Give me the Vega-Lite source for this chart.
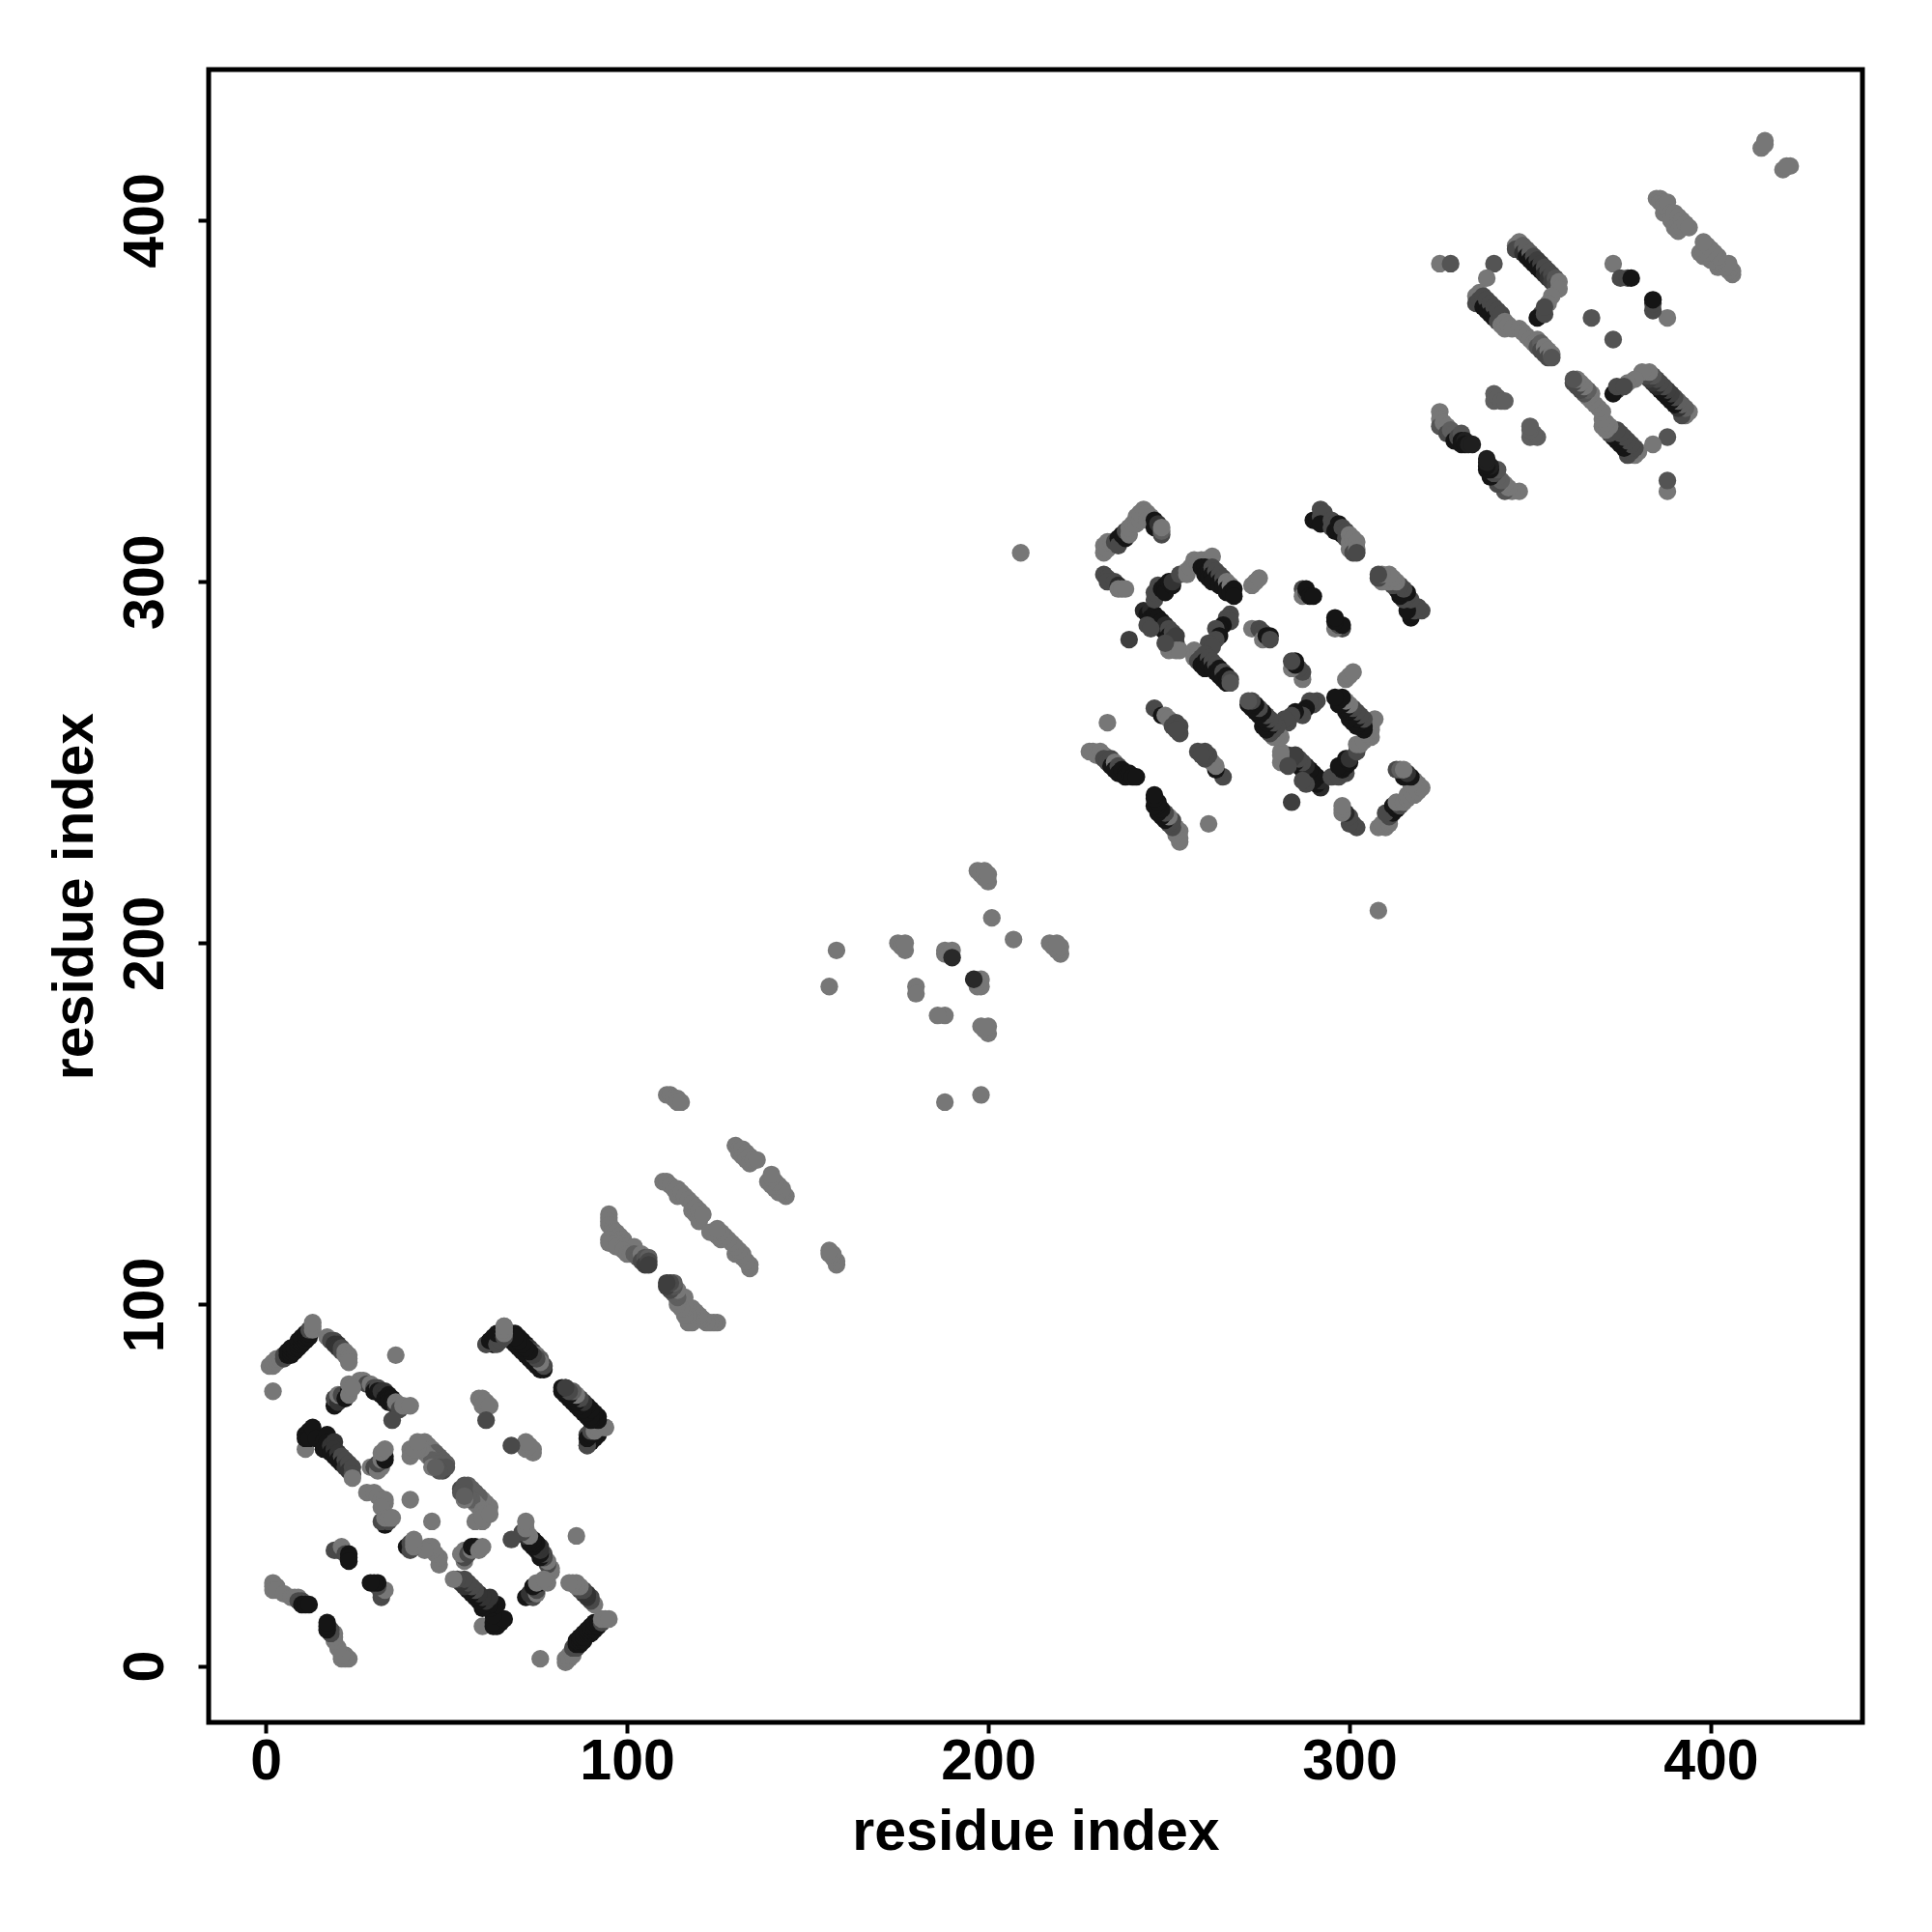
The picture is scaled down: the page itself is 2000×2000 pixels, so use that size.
{"$schema":"https://vega.github.io/schema/vega-lite/v6.json","width":1712,"height":1711,"autosize":{"type":"none"},"padding":{"left":216,"top":72,"right":72,"bottom":217},"background":"white","config":{"view":{"stroke":"black","strokeWidth":5},"font":"Liberation Sans"},
"data":{"values":[
{"x":1,"y":83,"v":1},{"x":2,"y":83,"v":1},{"x":2,"y":84,"v":1},{"x":3,"y":84,"v":1},{"x":3,"y":85,"v":1},{"x":4,"y":85,"v":1},{"x":5,"y":85,"v":0.6},{"x":5,"y":86,"v":0.6},{"x":6,"y":86,"v":0.1},{"x":6,"y":87,"v":0.1},{"x":7,"y":86,"v":0.1},{"x":7,"y":87,"v":0.1},{"x":7,"y":88,"v":0.1},{"x":8,"y":87,"v":0.1},{"x":8,"y":88,"v":0.1},{"x":9,"y":88,"v":0.1},{"x":9,"y":89,"v":0.1},{"x":9,"y":90,"v":0.1},{"x":10,"y":89,"v":0.1},{"x":10,"y":90,"v":0.1},{"x":10,"y":91,"v":0.1},{"x":11,"y":90,"v":0.1},{"x":11,"y":91,"v":0.1},{"x":11,"y":92,"v":0.1},{"x":12,"y":91,"v":0.1},{"x":12,"y":92,"v":0.1},{"x":12,"y":93,"v":0.6},{"x":13,"y":93,"v":1},{"x":13,"y":94,"v":1},{"x":13,"y":95,"v":1},{"x":2,"y":76,"v":1},
{"x":17,"y":91,"v":1},{"x":18,"y":90,"v":0.6},{"x":19,"y":90,"v":0.6},{"x":19,"y":89,"v":0.4},{"x":20,"y":89,"v":0.4},{"x":20,"y":88,"v":0.4},{"x":21,"y":88,"v":0.6},{"x":21,"y":87,"v":0.6},{"x":22,"y":87,"v":1},{"x":22,"y":86,"v":1},{"x":23,"y":86,"v":1},{"x":23,"y":85,"v":1},{"x":23,"y":84,"v":1},
{"x":26,"y":79,"v":1},{"x":27,"y":79,"v":1},{"x":28,"y":78,"v":0.6},{"x":29,"y":78,"v":1},{"x":30,"y":77,"v":0.6},{"x":30,"y":76,"v":0.1},{"x":31,"y":77,"v":0.6},{"x":31,"y":76,"v":0.1},{"x":32,"y":75,"v":0.1},{"x":32,"y":76,"v":0.4},{"x":33,"y":76,"v":0.4},{"x":33,"y":75,"v":0.4},{"x":33,"y":74,"v":0.1},{"x":34,"y":75,"v":0.1},{"x":34,"y":74,"v":0.1},{"x":34,"y":73,"v":0.1},{"x":35,"y":74,"v":0.1},{"x":35,"y":73,"v":0.1},{"x":36,"y":72,"v":0.4},{"x":36,"y":73,"v":1},{"x":37,"y":72,"v":1},{"x":37,"y":71,"v":0.6},{"x":38,"y":72,"v":1},{"x":40,"y":72,"v":1},{"x":35,"y":68,"v":0.6},
{"x":19,"y":72,"v":0.1},{"x":19,"y":74,"v":0.6},{"x":20,"y":73,"v":0.4},{"x":20,"y":75,"v":1},{"x":21,"y":75,"v":0.6},{"x":22,"y":74,"v":0.1},{"x":23,"y":76,"v":0.1},{"x":23,"y":75,"v":1},{"x":23,"y":78,"v":1},{"x":24,"y":77,"v":1},
{"x":11,"y":60,"v":1},{"x":11,"y":63,"v":0.1},{"x":11,"y":64,"v":0.1},{"x":12,"y":65,"v":0.1},{"x":12,"y":63,"v":0.1},{"x":13,"y":66,"v":0.1},{"x":14,"y":63,"v":0.1},{"x":16,"y":62,"v":0.1},{"x":17,"y":64,"v":0.1},{"x":17,"y":62,"v":0.1},{"x":16,"y":60,"v":0.1},{"x":17,"y":60,"v":0.1},{"x":18,"y":61,"v":0.4},{"x":18,"y":59,"v":0.1},{"x":19,"y":62,"v":0.4},{"x":19,"y":60,"v":0.4},{"x":19,"y":58,"v":0.1},{"x":20,"y":59,"v":0.4},{"x":20,"y":57,"v":0.1},{"x":21,"y":58,"v":0.6},{"x":21,"y":56,"v":0.1},{"x":22,"y":57,"v":0.6},{"x":22,"y":55,"v":0.4},{"x":23,"y":56,"v":0.6},{"x":23,"y":54,"v":0.4},{"x":24,"y":55,"v":0.6},{"x":24,"y":53,"v":0.6},{"x":24,"y":52,"v":1},
{"x":29,"y":55,"v":1},{"x":30,"y":55,"v":0.6},{"x":31,"y":54,"v":1},{"x":32,"y":55,"v":1},{"x":31,"y":56,"v":0.6},{"x":32,"y":57,"v":1},{"x":33,"y":57,"v":0.1},{"x":33,"y":58,"v":0.1},{"x":32,"y":59,"v":1},{"x":33,"y":60,"v":1},
{"x":40,"y":60,"v":1},{"x":40,"y":58,"v":1},{"x":43,"y":61,"v":1},{"x":44,"y":62,"v":1},{"x":45,"y":61,"v":1},{"x":46,"y":60,"v":1},{"x":47,"y":59,"v":0.8},{"x":48,"y":58,"v":0.8},{"x":49,"y":57,"v":0.8},{"x":50,"y":56,"v":0.8},{"x":44,"y":59,"v":1},{"x":45,"y":58,"v":1},{"x":46,"y":57,"v":0.8},{"x":47,"y":56,"v":0.8},{"x":48,"y":55,"v":0.7},{"x":49,"y":54,"v":0.6},{"x":50,"y":55,"v":0.7},{"x":48,"y":54,"v":0.7},{"x":46,"y":55,"v":1},{"x":47,"y":55,"v":0.8},{"x":43,"y":60,"v":1},{"x":42,"y":60,"v":1},{"x":41,"y":60,"v":1},{"x":42,"y":62,"v":1},
{"x":28,"y":48,"v":1},{"x":30,"y":48,"v":1},{"x":31,"y":47,"v":1},{"x":32,"y":46,"v":1},{"x":33,"y":45,"v":1},{"x":33,"y":46,"v":1},{"x":32,"y":44,"v":1},{"x":33,"y":39,"v":0.1},{"x":32,"y":40,"v":0.6},{"x":34,"y":40,"v":0.6},{"x":33,"y":41,"v":1},{"x":34,"y":41,"v":1},{"x":35,"y":41,"v":1},{"x":40,"y":46,"v":1},{"x":36,"y":86,"v":1},
{"x":59,"y":74,"v":1},{"x":60,"y":74,"v":1},{"x":60,"y":72,"v":1},{"x":61,"y":73,"v":1},{"x":62,"y":72,"v":1},{"x":61,"y":68,"v":0.6},
{"x":61,"y":89,"v":0.6},{"x":63,"y":89,"v":0.1},{"x":64,"y":90,"v":0.1},{"x":65,"y":90,"v":0.6},{"x":65,"y":91,"v":1},{"x":66,"y":92,"v":1},{"x":66,"y":94,"v":1},{"x":68,"y":92,"v":0.1},{"x":69,"y":92,"v":0.1},{"x":70,"y":91,"v":0.1},{"x":68,"y":90,"v":0.1},{"x":69,"y":90,"v":0.1},{"x":70,"y":89,"v":0.1},{"x":71,"y":90,"v":0.1},{"x":72,"y":89,"v":0.1},{"x":71,"y":88,"v":0.1},{"x":72,"y":87,"v":0.1},{"x":73,"y":88,"v":0.4},{"x":73,"y":86,"v":0.1},{"x":74,"y":87,"v":0.6},{"x":74,"y":85,"v":0.1},{"x":75,"y":86,"v":1},{"x":75,"y":84,"v":0.1},{"x":76,"y":85,"v":0.8},{"x":76,"y":84,"v":0.6},{"x":77,"y":82,"v":0.1},{"x":77,"y":83,"v":0.5},
{"x":82,"y":76,"v":0.1},{"x":83,"y":75,"v":0.1},{"x":83,"y":77,"v":0.6},{"x":84,"y":74,"v":0.1},{"x":84,"y":76,"v":1},{"x":85,"y":73,"v":0.1},{"x":85,"y":75,"v":0.6},{"x":86,"y":72,"v":0.1},{"x":86,"y":74,"v":0.5},{"x":87,"y":71,"v":0.1},{"x":87,"y":73,"v":0.1},{"x":88,"y":70,"v":0.1},{"x":88,"y":72,"v":0.1},{"x":89,"y":69,"v":0.1},{"x":89,"y":71,"v":0.1},{"x":90,"y":68,"v":0.1},{"x":90,"y":70,"v":0.1},{"x":91,"y":69,"v":0.1},{"x":89,"y":61,"v":0.6},{"x":90,"y":62,"v":0.1},{"x":91,"y":63,"v":0.1},{"x":89,"y":64,"v":0.6},{"x":90,"y":65,"v":0.6},{"x":92,"y":64,"v":0.1},{"x":91,"y":66,"v":0.6},{"x":92,"y":66,"v":1},{"x":93,"y":66,"v":1},{"x":94,"y":66,"v":1},
{"x":2,"y":23,"v":1},{"x":2,"y":22,"v":1},{"x":3,"y":22,"v":1},{"x":2,"y":21,"v":1},{"x":3,"y":21,"v":1},{"x":5,"y":20,"v":1},{"x":7,"y":19,"v":1},{"x":8,"y":19,"v":1},{"x":9,"y":19,"v":1},{"x":9,"y":18,"v":0.6},{"x":10,"y":18,"v":0.6},{"x":10,"y":17,"v":0.1},{"x":11,"y":17,"v":0.1},{"x":12,"y":17,"v":0.1},
{"x":19,"y":32,"v":0.6},{"x":20,"y":32,"v":0.6},{"x":21,"y":33,"v":1},{"x":22,"y":31,"v":0.6},{"x":23,"y":31,"v":0.1},{"x":23,"y":30,"v":0.1},{"x":23,"y":29,"v":0.1},
{"x":95,"y":125,"v":1},{"x":95,"y":124,"v":1},{"x":95,"y":123,"v":1},{"x":95,"y":122,"v":1},{"x":96,"y":121,"v":1},{"x":96,"y":120,"v":1},{"x":97,"y":120,"v":1},{"x":98,"y":119,"v":1},{"x":98,"y":118,"v":1},{"x":99,"y":118,"v":1},{"x":99,"y":117,"v":1},{"x":95,"y":118,"v":1},{"x":95,"y":117,"v":1},{"x":97,"y":117,"v":1},{"x":97,"y":116,"v":1},{"x":99,"y":116,"v":1},{"x":100,"y":116,"v":1},{"x":101,"y":115,"v":1},{"x":102,"y":116,"v":1},{"x":99,"y":115,"v":1},{"x":100,"y":114,"v":1},{"x":101,"y":114,"v":1},{"x":102,"y":114,"v":0.8},{"x":103,"y":113,"v":0.8},{"x":104,"y":114,"v":1},{"x":104,"y":112,"v":0.6},{"x":105,"y":113,"v":0.7},{"x":105,"y":111,"v":0.5},{"x":106,"y":113,"v":0.8},{"x":106,"y":112,"v":0.6},{"x":106,"y":111,"v":0.5},
{"x":110,"y":134,"v":1},{"x":111,"y":134,"v":1},{"x":112,"y":133,"v":1},{"x":113,"y":132,"v":1},{"x":114,"y":132,"v":1},{"x":114,"y":130,"v":1},{"x":115,"y":131,"v":1},{"x":116,"y":130,"v":1},{"x":117,"y":129,"v":1},{"x":118,"y":128,"v":1},{"x":118,"y":126,"v":1},{"x":119,"y":127,"v":1},{"x":119,"y":125,"v":1},{"x":120,"y":126,"v":1},{"x":120,"y":124,"v":1},{"x":120,"y":123,"v":1},{"x":121,"y":125,"v":1},
{"x":111,"y":158,"v":1},{"x":112,"y":158,"v":1},{"x":113,"y":157,"v":1},{"x":114,"y":157,"v":1},{"x":114,"y":156,"v":1},{"x":115,"y":156,"v":1},
{"x":130,"y":144,"v":1},{"x":131,"y":143,"v":1},{"x":131,"y":142,"v":1},{"x":132,"y":141,"v":1},{"x":132,"y":143,"v":1},{"x":133,"y":142,"v":1},{"x":133,"y":140,"v":1},{"x":134,"y":141,"v":1},{"x":134,"y":139,"v":1},{"x":135,"y":140,"v":1},{"x":136,"y":140,"v":1},
{"x":158,"y":198,"v":1},{"x":156,"y":188,"v":1},{"x":175,"y":200,"v":1},{"x":176,"y":199,"v":1},{"x":177,"y":198,"v":1},{"x":177,"y":200,"v":1},{"x":180,"y":188,"v":1},{"x":180,"y":186,"v":1},{"x":188,"y":197,"v":1},{"x":188,"y":198,"v":1},{"x":189,"y":197,"v":1},{"x":190,"y":198,"v":1},{"x":190,"y":196,"v":0.3},{"x":201,"y":207,"v":1},{"x":197,"y":220,"v":1},{"x":198,"y":219,"v":1},{"x":199,"y":218,"v":1},{"x":199,"y":220,"v":1},{"x":200,"y":217,"v":1},{"x":200,"y":219,"v":1},{"x":209,"y":308,"v":1},
{"x":232,"y":308,"v":1},{"x":232,"y":310,"v":1},{"x":233,"y":309,"v":1},{"x":233,"y":311,"v":1},{"x":234,"y":311,"v":1},{"x":235,"y":311,"v":0.6},{"x":236,"y":312,"v":0.1},{"x":236,"y":310,"v":0.6},{"x":237,"y":313,"v":0.1},{"x":238,"y":312,"v":0.1},{"x":238,"y":314,"v":0.6},{"x":239,"y":313,"v":1},{"x":239,"y":315,"v":1},{"x":240,"y":316,"v":1},{"x":241,"y":316,"v":1},{"x":241,"y":318,"v":1},{"x":242,"y":317,"v":1},{"x":242,"y":319,"v":1},{"x":243,"y":320,"v":1},{"x":244,"y":319,"v":1},{"x":244,"y":317,"v":1},{"x":245,"y":318,"v":1},{"x":246,"y":317,"v":0.1},{"x":246,"y":315,"v":0.1},{"x":247,"y":316,"v":0.4},{"x":248,"y":313,"v":0.6},{"x":248,"y":314,"v":0.8},{"x":248,"y":315,"v":1},
{"x":232,"y":302,"v":0.6},{"x":233,"y":301,"v":0.6},{"x":233,"y":300,"v":0.6},{"x":235,"y":300,"v":0.6},{"x":236,"y":299,"v":0.3},{"x":236,"y":298,"v":1},{"x":237,"y":298,"v":1},{"x":238,"y":298,"v":1},{"x":239,"y":284,"v":0.5},
{"x":243,"y":292,"v":0.3},{"x":244,"y":291,"v":0.1},{"x":245,"y":292,"v":0.3},{"x":245,"y":290,"v":0.1},{"x":246,"y":289,"v":0.1},{"x":246,"y":291,"v":0.1},{"x":247,"y":290,"v":0.1},{"x":247,"y":288,"v":0.1},{"x":248,"y":289,"v":0.1},{"x":248,"y":287,"v":0.1},{"x":249,"y":286,"v":0.1},{"x":249,"y":288,"v":0.3},{"x":250,"y":287,"v":0.6},{"x":250,"y":285,"v":0.1},{"x":251,"y":286,"v":0.6},{"x":251,"y":284,"v":0.5},{"x":252,"y":283,"v":0.5},{"x":252,"y":285,"v":0.5},{"x":250,"y":281,"v":1},{"x":252,"y":281,"v":1},{"x":253,"y":281,"v":1},{"x":249,"y":283,"v":0.6},{"x":244,"y":288,"v":0.6},{"x":245,"y":287,"v":0.6},
{"x":246,"y":295,"v":0.6},{"x":246,"y":297,"v":0.6},{"x":247,"y":299,"v":0.6},{"x":248,"y":298,"v":0.1},{"x":249,"y":299,"v":0.1},{"x":249,"y":297,"v":0.1},{"x":250,"y":300,"v":0.1},{"x":251,"y":299,"v":0.1},{"x":251,"y":300,"v":0.4},{"x":253,"y":302,"v":0.6},{"x":255,"y":302,"v":1},{"x":255,"y":303,"v":1},{"x":256,"y":304,"v":1},{"x":257,"y":306,"v":1},{"x":258,"y":305,"v":1},{"x":259,"y":306,"v":1},{"x":260,"y":306,"v":1},{"x":261,"y":305,"v":1},{"x":262,"y":307,"v":1},
{"x":259,"y":304,"v":0.1},{"x":260,"y":304,"v":0.1},{"x":260,"y":302,"v":0.1},{"x":261,"y":303,"v":0.1},{"x":261,"y":301,"v":0.1},{"x":262,"y":304,"v":0.6},{"x":262,"y":302,"v":0.1},{"x":262,"y":300,"v":0.1},{"x":263,"y":303,"v":0.6},{"x":263,"y":301,"v":0.1},{"x":264,"y":302,"v":0.6},{"x":264,"y":300,"v":0.1},{"x":264,"y":299,"v":0.1},{"x":265,"y":301,"v":0.6},{"x":265,"y":299,"v":0.1},{"x":266,"y":300,"v":1},{"x":266,"y":298,"v":0.1},{"x":266,"y":297,"v":0.1},{"x":267,"y":299,"v":1},{"x":267,"y":297,"v":0.1},{"x":268,"y":298,"v":0.1},{"x":268,"y":296,"v":0.1},
{"x":267,"y":291,"v":0.6},{"x":266,"y":290,"v":0.6},{"x":267,"y":289,"v":0.6},{"x":265,"y":288,"v":0.1},{"x":264,"y":287,"v":0.1},{"x":263,"y":287,"v":0.6},{"x":264,"y":285,"v":0.1},{"x":263,"y":284,"v":0.6},{"x":261,"y":283,"v":0.6},{"x":262,"y":282,"v":0.6},
{"x":257,"y":281,"v":1},{"x":257,"y":279,"v":1},{"x":258,"y":280,"v":1},{"x":258,"y":278,"v":0.6},{"x":259,"y":279,"v":0.6},{"x":259,"y":277,"v":0.1},{"x":260,"y":280,"v":0.6},{"x":260,"y":278,"v":0.1},{"x":260,"y":276,"v":0.1},{"x":261,"y":279,"v":0.6},{"x":261,"y":277,"v":0.1},{"x":262,"y":278,"v":0.6},{"x":262,"y":276,"v":0.1},{"x":263,"y":277,"v":0.6},{"x":263,"y":275,"v":0.1},{"x":264,"y":276,"v":0.1},{"x":264,"y":274,"v":0.1},{"x":265,"y":275,"v":0.6},{"x":265,"y":273,"v":0.1},{"x":266,"y":274,"v":0.1},{"x":266,"y":272,"v":0.1},{"x":267,"y":273,"v":0.6},{"x":267,"y":272,"v":0.7},
{"x":273,"y":299,"v":1},{"x":274,"y":300,"v":1},{"x":275,"y":301,"v":1},{"x":273,"y":287,"v":1},{"x":275,"y":287,"v":0.6},{"x":276,"y":286,"v":0.6},{"x":276,"y":284,"v":1},{"x":277,"y":285,"v":0.1},{"x":278,"y":285,"v":0.1},{"x":278,"y":284,"v":0.6},
{"x":287,"y":298,"v":0.6},{"x":287,"y":296,"v":1},{"x":288,"y":297,"v":0.6},{"x":288,"y":298,"v":0.1},{"x":289,"y":296,"v":0.1},{"x":290,"y":296,"v":0.1},
{"x":290,"y":317,"v":0.1},{"x":291,"y":317,"v":0.1},{"x":292,"y":318,"v":0.6},{"x":292,"y":320,"v":0.6},{"x":293,"y":319,"v":0.6},{"x":292,"y":316,"v":0.1},{"x":295,"y":317,"v":0.6},{"x":296,"y":316,"v":0.6},{"x":295,"y":315,"v":0.6},{"x":296,"y":314,"v":0.1},{"x":297,"y":316,"v":0.1},{"x":297,"y":314,"v":0.1},{"x":298,"y":313,"v":0.1},{"x":298,"y":315,"v":0.6},{"x":299,"y":312,"v":0.6},{"x":299,"y":314,"v":0.6},{"x":300,"y":313,"v":1},{"x":300,"y":311,"v":1},{"x":300,"y":309,"v":1},{"x":301,"y":312,"v":1},{"x":301,"y":310,"v":1},{"x":301,"y":308,"v":0.6},{"x":302,"y":311,"v":1},{"x":302,"y":309,"v":1},{"x":302,"y":308,"v":0.6},
{"x":228,"y":253,"v":1},{"x":229,"y":253,"v":1},{"x":230,"y":252,"v":1},{"x":231,"y":253,"v":1},{"x":232,"y":252,"v":1},{"x":232,"y":251,"v":0.6},{"x":233,"y":250,"v":0.6},{"x":234,"y":251,"v":0.6},{"x":234,"y":249,"v":0.1},{"x":235,"y":250,"v":1},{"x":235,"y":248,"v":0.1},{"x":236,"y":249,"v":0.6},{"x":236,"y":247,"v":0.1},{"x":237,"y":248,"v":0.1},{"x":238,"y":247,"v":0.1},{"x":238,"y":246,"v":0.1},{"x":239,"y":247,"v":0.1},{"x":240,"y":246,"v":0.1},{"x":241,"y":246,"v":0.1},
{"x":233,"y":261,"v":1},{"x":246,"y":265,"v":0.6},{"x":248,"y":263,"v":0.1},{"x":249,"y":263,"v":1},{"x":250,"y":262,"v":1},{"x":251,"y":260,"v":0.6},{"x":252,"y":261,"v":0.6},{"x":253,"y":260,"v":0.6},{"x":253,"y":258,"v":0.6},{"x":252,"y":259,"v":0.6},
{"x":385,"y":406,"v":1},{"x":386,"y":406,"v":1},{"x":386,"y":405,"v":1},{"x":387,"y":405,"v":1},{"x":387,"y":404,"v":1},{"x":387,"y":402,"v":1},{"x":388,"y":403,"v":1},{"x":388,"y":405,"v":1},{"x":389,"y":402,"v":1},{"x":389,"y":400,"v":1},{"x":390,"y":402,"v":1},{"x":390,"y":398,"v":1},{"x":391,"y":401,"v":1},{"x":391,"y":399,"v":1},{"x":391,"y":397,"v":1},{"x":392,"y":400,"v":1},{"x":392,"y":398,"v":1},{"x":393,"y":399,"v":1},{"x":394,"y":398,"v":1},
{"x":415,"y":422,"v":1},{"x":414,"y":420,"v":1},{"x":415,"y":421,"v":1},
{"x":346,"y":393,"v":1},{"x":347,"y":394,"v":1},{"x":346,"y":392,"v":0.6},{"x":348,"y":393,"v":0.8},{"x":348,"y":391,"v":0.4},{"x":349,"y":392,"v":0.8},{"x":349,"y":390,"v":0.1},{"x":350,"y":391,"v":0.8},{"x":350,"y":389,"v":0.1},{"x":351,"y":390,"v":0.6},{"x":351,"y":388,"v":0.1},{"x":352,"y":389,"v":0.5},{"x":352,"y":387,"v":0.1},{"x":353,"y":388,"v":0.5},{"x":353,"y":386,"v":0.1},{"x":354,"y":387,"v":0.6},{"x":354,"y":385,"v":0.3},{"x":355,"y":386,"v":0.6},{"x":355,"y":384,"v":0.4},{"x":356,"y":385,"v":0.6},{"x":356,"y":383,"v":0.5},{"x":357,"y":384,"v":0.7},{"x":357,"y":382,"v":0.6},{"x":358,"y":383,"v":1},{"x":358,"y":381,"v":1},
{"x":356,"y":379,"v":1},{"x":355,"y":377,"v":1},{"x":353,"y":374,"v":0.6},{"x":352,"y":373,"v":0.1},{"x":354,"y":374,"v":0.6},{"x":354,"y":376,"v":0.6},{"x":340,"y":388,"v":0.7},{"x":338,"y":384,"v":1},{"x":325,"y":388,"v":1},{"x":328,"y":388,"v":0.7},
{"x":335,"y":379,"v":1},{"x":335,"y":377,"v":0.6},{"x":336,"y":380,"v":1},{"x":336,"y":378,"v":0.6},{"x":337,"y":379,"v":0.6},{"x":337,"y":376,"v":0.1},{"x":338,"y":378,"v":0.6},{"x":338,"y":375,"v":0.1},{"x":339,"y":377,"v":0.6},{"x":339,"y":374,"v":0.1},{"x":340,"y":376,"v":0.6},{"x":340,"y":373,"v":0.1},{"x":341,"y":375,"v":0.6},{"x":341,"y":372,"v":0.6},{"x":342,"y":374,"v":0.6},{"x":342,"y":371,"v":1},{"x":343,"y":372,"v":1},{"x":343,"y":370,"v":1},{"x":344,"y":371,"v":1},{"x":345,"y":370,"v":1},{"x":347,"y":370,"v":1},
{"x":348,"y":369,"v":1},{"x":349,"y":368,"v":1},{"x":350,"y":367,"v":1},{"x":351,"y":366,"v":1},{"x":352,"y":367,"v":1},{"x":352,"y":365,"v":0.7},{"x":353,"y":366,"v":0.8},{"x":353,"y":364,"v":0.6},{"x":354,"y":365,"v":1},{"x":354,"y":363,"v":0.6},{"x":355,"y":364,"v":1},{"x":355,"y":362,"v":0.6},{"x":356,"y":363,"v":1},{"x":356,"y":362,"v":0.7},
{"x":373,"y":388,"v":1},{"x":375,"y":384,"v":0.6},{"x":377,"y":384,"v":0.6},{"x":378,"y":384,"v":0.1},{"x":367,"y":373,"v":0.7},
{"x":325,"y":347,"v":1},{"x":325,"y":345,"v":1},{"x":325,"y":343,"v":0.7},{"x":326,"y":344,"v":1},{"x":327,"y":343,"v":1},{"x":327,"y":341,"v":0.6},{"x":328,"y":342,"v":0.8},{"x":329,"y":341,"v":0.8},{"x":329,"y":339,"v":0.1},{"x":330,"y":340,"v":0.6},{"x":331,"y":341,"v":0.7},{"x":331,"y":339,"v":0.1},{"x":331,"y":338,"v":0.1},{"x":332,"y":339,"v":0.2},{"x":332,"y":338,"v":0.1},{"x":333,"y":338,"v":0.2},{"x":334,"y":338,"v":0.2},
{"x":340,"y":352,"v":0.8},{"x":340,"y":350,"v":0.8},{"x":341,"y":351,"v":0.8},{"x":342,"y":350,"v":0.8},{"x":343,"y":350,"v":0.8},
{"y":1,"x":83,"v":1},{"y":2,"x":83,"v":1},{"y":2,"x":84,"v":1},{"y":3,"x":84,"v":1},{"y":3,"x":85,"v":1},{"y":4,"x":85,"v":1},{"y":5,"x":85,"v":0.6},{"y":5,"x":86,"v":0.6},{"y":6,"x":86,"v":0.1},{"y":6,"x":87,"v":0.1},{"y":7,"x":86,"v":0.1},{"y":7,"x":87,"v":0.1},{"y":7,"x":88,"v":0.1},{"y":8,"x":87,"v":0.1},{"y":8,"x":88,"v":0.1},{"y":9,"x":88,"v":0.1},{"y":9,"x":89,"v":0.1},{"y":9,"x":90,"v":0.1},{"y":10,"x":89,"v":0.1},{"y":10,"x":90,"v":0.1},{"y":10,"x":91,"v":0.1},{"y":11,"x":90,"v":0.1},{"y":11,"x":91,"v":0.1},{"y":11,"x":92,"v":0.1},{"y":12,"x":91,"v":0.1},{"y":12,"x":92,"v":0.1},{"y":12,"x":93,"v":0.6},{"y":13,"x":93,"v":1},{"y":13,"x":94,"v":1},{"y":13,"x":95,"v":1},{"y":2,"x":76,"v":1},
{"y":17,"x":91,"v":1},{"y":18,"x":90,"v":0.6},{"y":19,"x":90,"v":0.6},{"y":19,"x":89,"v":0.4},{"y":20,"x":89,"v":0.4},{"y":20,"x":88,"v":0.4},{"y":21,"x":88,"v":0.6},{"y":21,"x":87,"v":0.6},{"y":22,"x":87,"v":1},{"y":22,"x":86,"v":1},{"y":23,"x":86,"v":1},{"y":23,"x":85,"v":1},{"y":23,"x":84,"v":1},
{"y":26,"x":79,"v":1},{"y":27,"x":79,"v":1},{"y":28,"x":78,"v":0.6},{"y":29,"x":78,"v":1},{"y":30,"x":77,"v":0.6},{"y":30,"x":76,"v":0.1},{"y":31,"x":77,"v":0.6},{"y":31,"x":76,"v":0.1},{"y":32,"x":75,"v":0.1},{"y":32,"x":76,"v":0.4},{"y":33,"x":76,"v":0.4},{"y":33,"x":75,"v":0.4},{"y":33,"x":74,"v":0.1},{"y":34,"x":75,"v":0.1},{"y":34,"x":74,"v":0.1},{"y":34,"x":73,"v":0.1},{"y":35,"x":74,"v":0.1},{"y":35,"x":73,"v":0.1},{"y":36,"x":72,"v":0.4},{"y":36,"x":73,"v":1},{"y":37,"x":72,"v":1},{"y":37,"x":71,"v":0.6},{"y":38,"x":72,"v":1},{"y":40,"x":72,"v":1},{"y":35,"x":68,"v":0.6},
{"y":19,"x":72,"v":0.1},{"y":19,"x":74,"v":0.6},{"y":20,"x":73,"v":0.4},{"y":20,"x":75,"v":1},{"y":21,"x":75,"v":0.6},{"y":22,"x":74,"v":0.1},{"y":23,"x":76,"v":0.1},{"y":23,"x":75,"v":1},{"y":23,"x":78,"v":1},{"y":24,"x":77,"v":1},
{"y":11,"x":60,"v":1},{"y":11,"x":63,"v":0.1},{"y":11,"x":64,"v":0.1},{"y":12,"x":65,"v":0.1},{"y":12,"x":63,"v":0.1},{"y":13,"x":66,"v":0.1},{"y":14,"x":63,"v":0.1},{"y":16,"x":62,"v":0.1},{"y":17,"x":64,"v":0.1},{"y":17,"x":62,"v":0.1},{"y":16,"x":60,"v":0.1},{"y":17,"x":60,"v":0.1},{"y":18,"x":61,"v":0.4},{"y":18,"x":59,"v":0.1},{"y":19,"x":62,"v":0.4},{"y":19,"x":60,"v":0.4},{"y":19,"x":58,"v":0.1},{"y":20,"x":59,"v":0.4},{"y":20,"x":57,"v":0.1},{"y":21,"x":58,"v":0.6},{"y":21,"x":56,"v":0.1},{"y":22,"x":57,"v":0.6},{"y":22,"x":55,"v":0.4},{"y":23,"x":56,"v":0.6},{"y":23,"x":54,"v":0.4},{"y":24,"x":55,"v":0.6},{"y":24,"x":53,"v":0.6},{"y":24,"x":52,"v":1},
{"y":29,"x":55,"v":1},{"y":30,"x":55,"v":0.6},{"y":31,"x":54,"v":1},{"y":32,"x":55,"v":1},{"y":31,"x":56,"v":0.6},{"y":32,"x":57,"v":1},{"y":33,"x":57,"v":0.1},{"y":33,"x":58,"v":0.1},{"y":32,"x":59,"v":1},{"y":33,"x":60,"v":1},
{"y":40,"x":60,"v":1},{"y":40,"x":58,"v":1},{"y":43,"x":61,"v":1},{"y":44,"x":62,"v":1},{"y":45,"x":61,"v":1},{"y":46,"x":60,"v":1},{"y":47,"x":59,"v":0.8},{"y":48,"x":58,"v":0.8},{"y":49,"x":57,"v":0.8},{"y":50,"x":56,"v":0.8},{"y":44,"x":59,"v":1},{"y":45,"x":58,"v":1},{"y":46,"x":57,"v":0.8},{"y":47,"x":56,"v":0.8},{"y":48,"x":55,"v":0.7},{"y":49,"x":54,"v":0.6},{"y":50,"x":55,"v":0.7},{"y":48,"x":54,"v":0.7},{"y":46,"x":55,"v":1},{"y":47,"x":55,"v":0.8},{"y":43,"x":60,"v":1},{"y":42,"x":60,"v":1},{"y":41,"x":60,"v":1},{"y":42,"x":62,"v":1},
{"y":28,"x":48,"v":1},{"y":30,"x":48,"v":1},{"y":31,"x":47,"v":1},{"y":32,"x":46,"v":1},{"y":33,"x":45,"v":1},{"y":33,"x":46,"v":1},{"y":32,"x":44,"v":1},{"y":33,"x":39,"v":0.1},{"y":32,"x":40,"v":0.6},{"y":34,"x":40,"v":0.6},{"y":33,"x":41,"v":1},{"y":34,"x":41,"v":1},{"y":35,"x":41,"v":1},{"y":40,"x":46,"v":1},{"y":36,"x":86,"v":1},
{"y":59,"x":74,"v":1},{"y":60,"x":74,"v":1},{"y":60,"x":72,"v":1},{"y":61,"x":73,"v":1},{"y":62,"x":72,"v":1},{"y":61,"x":68,"v":0.6},
{"y":61,"x":89,"v":0.6},{"y":63,"x":89,"v":0.1},{"y":64,"x":90,"v":0.1},{"y":65,"x":90,"v":0.6},{"y":65,"x":91,"v":1},{"y":66,"x":92,"v":1},{"y":66,"x":94,"v":1},{"y":68,"x":92,"v":0.1},{"y":69,"x":92,"v":0.1},{"y":70,"x":91,"v":0.1},{"y":68,"x":90,"v":0.1},{"y":69,"x":90,"v":0.1},{"y":70,"x":89,"v":0.1},{"y":71,"x":90,"v":0.1},{"y":72,"x":89,"v":0.1},{"y":71,"x":88,"v":0.1},{"y":72,"x":87,"v":0.1},{"y":73,"x":88,"v":0.4},{"y":73,"x":86,"v":0.1},{"y":74,"x":87,"v":0.6},{"y":74,"x":85,"v":0.1},{"y":75,"x":86,"v":1},{"y":75,"x":84,"v":0.1},{"y":76,"x":85,"v":0.8},{"y":76,"x":84,"v":0.6},{"y":77,"x":82,"v":0.1},{"y":77,"x":83,"v":0.5},
{"y":82,"x":76,"v":0.1},{"y":83,"x":75,"v":0.1},{"y":83,"x":77,"v":0.6},{"y":84,"x":74,"v":0.1},{"y":84,"x":76,"v":1},{"y":85,"x":73,"v":0.1},{"y":85,"x":75,"v":0.6},{"y":86,"x":72,"v":0.1},{"y":86,"x":74,"v":0.5},{"y":87,"x":71,"v":0.1},{"y":87,"x":73,"v":0.1},{"y":88,"x":70,"v":0.1},{"y":88,"x":72,"v":0.1},{"y":89,"x":69,"v":0.1},{"y":89,"x":71,"v":0.1},{"y":90,"x":68,"v":0.1},{"y":90,"x":70,"v":0.1},{"y":91,"x":69,"v":0.1},{"y":89,"x":61,"v":0.6},{"y":90,"x":62,"v":0.1},{"y":91,"x":63,"v":0.1},{"y":89,"x":64,"v":0.6},{"y":90,"x":65,"v":0.6},{"y":92,"x":64,"v":0.1},{"y":91,"x":66,"v":0.6},{"y":92,"x":66,"v":1},{"y":93,"x":66,"v":1},{"y":94,"x":66,"v":1},
{"y":2,"x":23,"v":1},{"y":2,"x":22,"v":1},{"y":3,"x":22,"v":1},{"y":2,"x":21,"v":1},{"y":3,"x":21,"v":1},{"y":5,"x":20,"v":1},{"y":7,"x":19,"v":1},{"y":8,"x":19,"v":1},{"y":9,"x":19,"v":1},{"y":9,"x":18,"v":0.6},{"y":10,"x":18,"v":0.6},{"y":10,"x":17,"v":0.1},{"y":11,"x":17,"v":0.1},{"y":12,"x":17,"v":0.1},
{"y":19,"x":32,"v":0.6},{"y":20,"x":32,"v":0.6},{"y":21,"x":33,"v":1},{"y":22,"x":31,"v":0.6},{"y":23,"x":31,"v":0.1},{"y":23,"x":30,"v":0.1},{"y":23,"x":29,"v":0.1},
{"y":95,"x":125,"v":1},{"y":95,"x":124,"v":1},{"y":95,"x":123,"v":1},{"y":95,"x":122,"v":1},{"y":96,"x":121,"v":1},{"y":96,"x":120,"v":1},{"y":97,"x":120,"v":1},{"y":98,"x":119,"v":1},{"y":98,"x":118,"v":1},{"y":99,"x":118,"v":1},{"y":99,"x":117,"v":1},{"y":95,"x":118,"v":1},{"y":95,"x":117,"v":1},{"y":97,"x":117,"v":1},{"y":97,"x":116,"v":1},{"y":99,"x":116,"v":1},{"y":100,"x":116,"v":1},{"y":101,"x":115,"v":1},{"y":102,"x":116,"v":1},{"y":99,"x":115,"v":1},{"y":100,"x":114,"v":1},{"y":101,"x":114,"v":1},{"y":102,"x":114,"v":0.8},{"y":103,"x":113,"v":0.8},{"y":104,"x":114,"v":1},{"y":104,"x":112,"v":0.6},{"y":105,"x":113,"v":0.7},{"y":105,"x":111,"v":0.5},{"y":106,"x":113,"v":0.8},{"y":106,"x":112,"v":0.6},{"y":106,"x":111,"v":0.5},
{"y":110,"x":134,"v":1},{"y":111,"x":134,"v":1},{"y":112,"x":133,"v":1},{"y":113,"x":132,"v":1},{"y":114,"x":132,"v":1},{"y":114,"x":130,"v":1},{"y":115,"x":131,"v":1},{"y":116,"x":130,"v":1},{"y":117,"x":129,"v":1},{"y":118,"x":128,"v":1},{"y":118,"x":126,"v":1},{"y":119,"x":127,"v":1},{"y":119,"x":125,"v":1},{"y":120,"x":126,"v":1},{"y":120,"x":124,"v":1},{"y":120,"x":123,"v":1},{"y":121,"x":125,"v":1},
{"y":111,"x":158,"v":1},{"y":112,"x":158,"v":1},{"y":113,"x":157,"v":1},{"y":114,"x":157,"v":1},{"y":114,"x":156,"v":1},{"y":115,"x":156,"v":1},
{"y":130,"x":144,"v":1},{"y":131,"x":143,"v":1},{"y":131,"x":142,"v":1},{"y":132,"x":141,"v":1},{"y":132,"x":143,"v":1},{"y":133,"x":142,"v":1},{"y":133,"x":140,"v":1},{"y":134,"x":141,"v":1},{"y":134,"x":139,"v":1},{"y":135,"x":140,"v":1},{"y":136,"x":140,"v":1},
{"y":158,"x":198,"v":1},{"y":156,"x":188,"v":1},{"y":175,"x":200,"v":1},{"y":176,"x":199,"v":1},{"y":177,"x":198,"v":1},{"y":177,"x":200,"v":1},{"y":180,"x":188,"v":1},{"y":180,"x":186,"v":1},{"y":188,"x":197,"v":1},{"y":188,"x":198,"v":1},{"y":189,"x":197,"v":1},{"y":190,"x":198,"v":1},{"y":190,"x":196,"v":0.3},{"y":201,"x":207,"v":1},{"y":197,"x":220,"v":1},{"y":198,"x":219,"v":1},{"y":199,"x":218,"v":1},{"y":199,"x":220,"v":1},{"y":200,"x":217,"v":1},{"y":200,"x":219,"v":1},{"y":209,"x":308,"v":1},
{"y":232,"x":308,"v":1},{"y":232,"x":310,"v":1},{"y":233,"x":309,"v":1},{"y":233,"x":311,"v":1},{"y":234,"x":311,"v":1},{"y":235,"x":311,"v":0.6},{"y":236,"x":312,"v":0.1},{"y":236,"x":310,"v":0.6},{"y":237,"x":313,"v":0.1},{"y":238,"x":312,"v":0.1},{"y":238,"x":314,"v":0.6},{"y":239,"x":313,"v":1},{"y":239,"x":315,"v":1},{"y":240,"x":316,"v":1},{"y":241,"x":316,"v":1},{"y":241,"x":318,"v":1},{"y":242,"x":317,"v":1},{"y":242,"x":319,"v":1},{"y":243,"x":320,"v":1},{"y":244,"x":319,"v":1},{"y":244,"x":317,"v":1},{"y":245,"x":318,"v":1},{"y":246,"x":317,"v":0.1},{"y":246,"x":315,"v":0.1},{"y":247,"x":316,"v":0.4},{"y":248,"x":313,"v":0.6},{"y":248,"x":314,"v":0.8},{"y":248,"x":315,"v":1},
{"y":232,"x":302,"v":0.6},{"y":233,"x":301,"v":0.6},{"y":233,"x":300,"v":0.6},{"y":235,"x":300,"v":0.6},{"y":236,"x":299,"v":0.3},{"y":236,"x":298,"v":1},{"y":237,"x":298,"v":1},{"y":238,"x":298,"v":1},{"y":239,"x":284,"v":0.5},
{"y":243,"x":292,"v":0.3},{"y":244,"x":291,"v":0.1},{"y":245,"x":292,"v":0.3},{"y":245,"x":290,"v":0.1},{"y":246,"x":289,"v":0.1},{"y":246,"x":291,"v":0.1},{"y":247,"x":290,"v":0.1},{"y":247,"x":288,"v":0.1},{"y":248,"x":289,"v":0.1},{"y":248,"x":287,"v":0.1},{"y":249,"x":286,"v":0.1},{"y":249,"x":288,"v":0.3},{"y":250,"x":287,"v":0.6},{"y":250,"x":285,"v":0.1},{"y":251,"x":286,"v":0.6},{"y":251,"x":284,"v":0.5},{"y":252,"x":283,"v":0.5},{"y":252,"x":285,"v":0.5},{"y":250,"x":281,"v":1},{"y":252,"x":281,"v":1},{"y":253,"x":281,"v":1},{"y":249,"x":283,"v":0.6},{"y":244,"x":288,"v":0.6},{"y":245,"x":287,"v":0.6},
{"y":246,"x":295,"v":0.6},{"y":246,"x":297,"v":0.6},{"y":247,"x":299,"v":0.6},{"y":248,"x":298,"v":0.1},{"y":249,"x":299,"v":0.1},{"y":249,"x":297,"v":0.1},{"y":250,"x":300,"v":0.1},{"y":251,"x":299,"v":0.1},{"y":251,"x":300,"v":0.4},{"y":253,"x":302,"v":0.6},{"y":255,"x":302,"v":1},{"y":255,"x":303,"v":1},{"y":256,"x":304,"v":1},{"y":257,"x":306,"v":1},{"y":258,"x":305,"v":1},{"y":259,"x":306,"v":1},{"y":260,"x":306,"v":1},{"y":261,"x":305,"v":1},{"y":262,"x":307,"v":1},
{"y":259,"x":304,"v":0.1},{"y":260,"x":304,"v":0.1},{"y":260,"x":302,"v":0.1},{"y":261,"x":303,"v":0.1},{"y":261,"x":301,"v":0.1},{"y":262,"x":304,"v":0.6},{"y":262,"x":302,"v":0.1},{"y":262,"x":300,"v":0.1},{"y":263,"x":303,"v":0.6},{"y":263,"x":301,"v":0.1},{"y":264,"x":302,"v":0.6},{"y":264,"x":300,"v":0.1},{"y":264,"x":299,"v":0.1},{"y":265,"x":301,"v":0.6},{"y":265,"x":299,"v":0.1},{"y":266,"x":300,"v":1},{"y":266,"x":298,"v":0.1},{"y":266,"x":297,"v":0.1},{"y":267,"x":299,"v":1},{"y":267,"x":297,"v":0.1},{"y":268,"x":298,"v":0.1},{"y":268,"x":296,"v":0.1},
{"y":267,"x":291,"v":0.6},{"y":266,"x":290,"v":0.6},{"y":267,"x":289,"v":0.6},{"y":265,"x":288,"v":0.1},{"y":264,"x":287,"v":0.1},{"y":263,"x":287,"v":0.6},{"y":264,"x":285,"v":0.1},{"y":263,"x":284,"v":0.6},{"y":261,"x":283,"v":0.6},{"y":262,"x":282,"v":0.6},
{"y":257,"x":281,"v":1},{"y":257,"x":279,"v":1},{"y":258,"x":280,"v":1},{"y":258,"x":278,"v":0.6},{"y":259,"x":279,"v":0.6},{"y":259,"x":277,"v":0.1},{"y":260,"x":280,"v":0.6},{"y":260,"x":278,"v":0.1},{"y":260,"x":276,"v":0.1},{"y":261,"x":279,"v":0.6},{"y":261,"x":277,"v":0.1},{"y":262,"x":278,"v":0.6},{"y":262,"x":276,"v":0.1},{"y":263,"x":277,"v":0.6},{"y":263,"x":275,"v":0.1},{"y":264,"x":276,"v":0.1},{"y":264,"x":274,"v":0.1},{"y":265,"x":275,"v":0.6},{"y":265,"x":273,"v":0.1},{"y":266,"x":274,"v":0.1},{"y":266,"x":272,"v":0.1},{"y":267,"x":273,"v":0.6},{"y":267,"x":272,"v":0.7},
{"y":273,"x":299,"v":1},{"y":274,"x":300,"v":1},{"y":275,"x":301,"v":1},{"y":273,"x":287,"v":1},{"y":275,"x":287,"v":0.6},{"y":276,"x":286,"v":0.6},{"y":276,"x":284,"v":1},{"y":277,"x":285,"v":0.1},{"y":278,"x":285,"v":0.1},{"y":278,"x":284,"v":0.6},
{"y":287,"x":298,"v":0.6},{"y":287,"x":296,"v":1},{"y":288,"x":297,"v":0.6},{"y":288,"x":298,"v":0.1},{"y":289,"x":296,"v":0.1},{"y":290,"x":296,"v":0.1},
{"y":290,"x":317,"v":0.1},{"y":291,"x":317,"v":0.1},{"y":292,"x":318,"v":0.6},{"y":292,"x":320,"v":0.6},{"y":293,"x":319,"v":0.6},{"y":292,"x":316,"v":0.1},{"y":295,"x":317,"v":0.6},{"y":296,"x":316,"v":0.6},{"y":295,"x":315,"v":0.6},{"y":296,"x":314,"v":0.1},{"y":297,"x":316,"v":0.1},{"y":297,"x":314,"v":0.1},{"y":298,"x":313,"v":0.1},{"y":298,"x":315,"v":0.6},{"y":299,"x":312,"v":0.6},{"y":299,"x":314,"v":0.6},{"y":300,"x":313,"v":1},{"y":300,"x":311,"v":1},{"y":300,"x":309,"v":1},{"y":301,"x":312,"v":1},{"y":301,"x":310,"v":1},{"y":301,"x":308,"v":0.6},{"y":302,"x":311,"v":1},{"y":302,"x":309,"v":1},{"y":302,"x":308,"v":0.6},
{"y":228,"x":253,"v":1},{"y":229,"x":253,"v":1},{"y":230,"x":252,"v":1},{"y":231,"x":253,"v":1},{"y":232,"x":252,"v":1},{"y":232,"x":251,"v":0.6},{"y":233,"x":250,"v":0.6},{"y":234,"x":251,"v":0.6},{"y":234,"x":249,"v":0.1},{"y":235,"x":250,"v":1},{"y":235,"x":248,"v":0.1},{"y":236,"x":249,"v":0.6},{"y":236,"x":247,"v":0.1},{"y":237,"x":248,"v":0.1},{"y":238,"x":247,"v":0.1},{"y":238,"x":246,"v":0.1},{"y":239,"x":247,"v":0.1},{"y":240,"x":246,"v":0.1},{"y":241,"x":246,"v":0.1},
{"y":233,"x":261,"v":1},{"y":246,"x":265,"v":0.6},{"y":248,"x":263,"v":0.1},{"y":249,"x":263,"v":1},{"y":250,"x":262,"v":1},{"y":251,"x":260,"v":0.6},{"y":252,"x":261,"v":0.6},{"y":253,"x":260,"v":0.6},{"y":253,"x":258,"v":0.6},{"y":252,"x":259,"v":0.6},
{"y":385,"x":406,"v":1},{"y":386,"x":406,"v":1},{"y":386,"x":405,"v":1},{"y":387,"x":405,"v":1},{"y":387,"x":404,"v":1},{"y":387,"x":402,"v":1},{"y":388,"x":403,"v":1},{"y":388,"x":405,"v":1},{"y":389,"x":402,"v":1},{"y":389,"x":400,"v":1},{"y":390,"x":402,"v":1},{"y":390,"x":398,"v":1},{"y":391,"x":401,"v":1},{"y":391,"x":399,"v":1},{"y":391,"x":397,"v":1},{"y":392,"x":400,"v":1},{"y":392,"x":398,"v":1},{"y":393,"x":399,"v":1},{"y":394,"x":398,"v":1},
{"y":415,"x":422,"v":1},{"y":414,"x":420,"v":1},{"y":415,"x":421,"v":1},
{"y":346,"x":393,"v":1},{"y":347,"x":394,"v":1},{"y":346,"x":392,"v":0.6},{"y":348,"x":393,"v":0.8},{"y":348,"x":391,"v":0.4},{"y":349,"x":392,"v":0.8},{"y":349,"x":390,"v":0.1},{"y":350,"x":391,"v":0.8},{"y":350,"x":389,"v":0.1},{"y":351,"x":390,"v":0.6},{"y":351,"x":388,"v":0.1},{"y":352,"x":389,"v":0.5},{"y":352,"x":387,"v":0.1},{"y":353,"x":388,"v":0.5},{"y":353,"x":386,"v":0.1},{"y":354,"x":387,"v":0.6},{"y":354,"x":385,"v":0.3},{"y":355,"x":386,"v":0.6},{"y":355,"x":384,"v":0.4},{"y":356,"x":385,"v":0.6},{"y":356,"x":383,"v":0.5},{"y":357,"x":384,"v":0.7},{"y":357,"x":382,"v":0.6},{"y":358,"x":383,"v":1},{"y":358,"x":381,"v":1},
{"y":356,"x":379,"v":1},{"y":355,"x":377,"v":1},{"y":353,"x":374,"v":0.6},{"y":352,"x":373,"v":0.1},{"y":354,"x":374,"v":0.6},{"y":354,"x":376,"v":0.6},{"y":340,"x":388,"v":0.7},{"y":338,"x":384,"v":1},{"y":325,"x":388,"v":1},{"y":328,"x":388,"v":0.7},
{"y":335,"x":379,"v":1},{"y":335,"x":377,"v":0.6},{"y":336,"x":380,"v":1},{"y":336,"x":378,"v":0.6},{"y":337,"x":379,"v":0.6},{"y":337,"x":376,"v":0.1},{"y":338,"x":378,"v":0.6},{"y":338,"x":375,"v":0.1},{"y":339,"x":377,"v":0.6},{"y":339,"x":374,"v":0.1},{"y":340,"x":376,"v":0.6},{"y":340,"x":373,"v":0.1},{"y":341,"x":375,"v":0.6},{"y":341,"x":372,"v":0.6},{"y":342,"x":374,"v":0.6},{"y":342,"x":371,"v":1},{"y":343,"x":372,"v":1},{"y":343,"x":370,"v":1},{"y":344,"x":371,"v":1},{"y":345,"x":370,"v":1},{"y":347,"x":370,"v":1},
{"y":348,"x":369,"v":1},{"y":349,"x":368,"v":1},{"y":350,"x":367,"v":1},{"y":351,"x":366,"v":1},{"y":352,"x":367,"v":1},{"y":352,"x":365,"v":0.7},{"y":353,"x":366,"v":0.8},{"y":353,"x":364,"v":0.6},{"y":354,"x":365,"v":1},{"y":354,"x":363,"v":0.6},{"y":355,"x":364,"v":1},{"y":355,"x":362,"v":0.6},{"y":356,"x":363,"v":1},{"y":356,"x":362,"v":0.7},
{"y":373,"x":388,"v":1},{"y":375,"x":384,"v":0.6},{"y":377,"x":384,"v":0.6},{"y":378,"x":384,"v":0.1},{"y":367,"x":373,"v":0.7},
{"y":325,"x":347,"v":1},{"y":325,"x":345,"v":1},{"y":325,"x":343,"v":0.7},{"y":326,"x":344,"v":1},{"y":327,"x":343,"v":1},{"y":327,"x":341,"v":0.6},{"y":328,"x":342,"v":0.8},{"y":329,"x":341,"v":0.8},{"y":329,"x":339,"v":0.1},{"y":330,"x":340,"v":0.6},{"y":331,"x":341,"v":0.7},{"y":331,"x":339,"v":0.1},{"y":331,"x":338,"v":0.1},{"y":332,"x":339,"v":0.2},{"y":332,"x":338,"v":0.1},{"y":333,"x":338,"v":0.2},{"y":334,"x":338,"v":0.2},
{"y":340,"x":352,"v":0.8},{"y":340,"x":350,"v":0.8},{"y":341,"x":351,"v":0.8},{"y":342,"x":350,"v":0.8},{"y":343,"x":350,"v":0.8}
]},
"mark":{"type":"point","shape":"circle","filled":true,"size":335,"opacity":1},"encoding":{
"x":{"field":"x","type":"quantitative","scale":{"domain":[-15.8,442],"nice":false,"zero":false},"axis":{"title":"residue index","values":[0,100,200,300,400],"grid":false,"domain":false,"tickSize":11,"tickWidth":4,"tickColor":"black","labelFont":"Liberation Sans","labelFontWeight":"bold","labelFontSize":59,"labelColor":"black","labelPadding":0,"titleFont":"Liberation Sans","titleFontWeight":"bold","titleFontSize":59,"titleColor":"black","titlePadding":14}},
"y":{"field":"y","type":"quantitative","scale":{"domain":[-15.6,441.7],"nice":false,"zero":false},"axis":{"title":"residue index","values":[0,100,200,300,400],"grid":false,"domain":false,"tickSize":11,"tickWidth":4,"tickColor":"black","labelFont":"Liberation Sans","labelFontWeight":"bold","labelFontSize":59,"labelColor":"black","labelAngle":-90,"labelAlign":"center","labelBaseline":"bottom","labelPadding":25,"titleFont":"Liberation Sans","titleFontWeight":"bold","titleFontSize":59,"titleColor":"black","titlePadding":14}},
"color":{"field":"v","type":"quantitative","scale":{"domain":[0,1],"range":["#080808","#777777"]},"legend":null}}}
